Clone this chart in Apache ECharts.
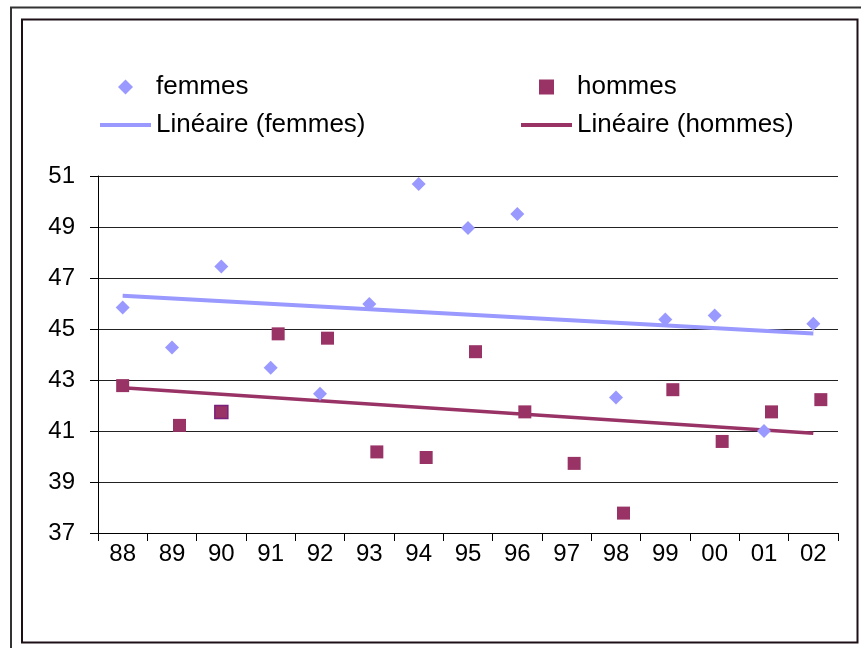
<!DOCTYPE html>
<html>
<head>
<meta charset="utf-8">
<script src="https://cdn.jsdelivr.net/npm/echarts@6/dist/echarts.min.js"></script>
<style>
  html, body { margin: 0; padding: 0; background: #fff; }
  #chart { width: 861px; height: 648px; }
</style>
</head>
<body>
<div id="chart"></div>
<script>
// années (axe x)
var annees = ['88', '89', '90', '91', '92', '93', '94', '95', '96', '97', '98', '99', '00', '01', '02']
// valeurs
var femmes = [45.84, 44.27, 47.45, 43.48, 42.46, 45.98, 50.69, 48.96, 49.51, null, 42.31, 45.37, 45.53, 41.0, 45.21]
var hommes = [42.78, 41.22, 41.75, 44.81, 44.64, 40.18, 39.96, 44.11, 41.75, 39.73, 37.78, 42.62, 40.59, 41.75, 42.23]
// droites de tendance : valeur en 88 et en 02
var tendanceFemmes = [46.3, 44.82]
var tendanceHommes = [42.7, 40.91]
var yTicks = { min: 37, max: 51, interval: 2 }

var COL_F = '#9999FF'
var COL_H = '#993366'
var FONT = 'Liberation Sans, Arial, sans-serif'

// icônes de légende (gardent leurs proportions dans la case)
var ICON_DIAMOND = 'path://M0,7 L7,0 L14,7 L7,14 Z'
var ICON_SQUARE = 'path://M0,0 L13,0 L13,13 L0,13 Z'
var ICON_LINE = 'path://M0,0 L51,0 L51,4 L0,4 Z'

function tendance (ends) {
  var arr = annees.map(function () { return null })
  arr[0] = ends[0]
  arr[arr.length - 1] = ends[1]
  return arr
}

// les carrés "hommes" sont légèrement décalés à droite, sauf 88 et 90
var hommesData = hommes.map(function (v, i) {
  var item = { value: v }
  if (i === 0) item.symbolOffset = [0, 0]
  if (i === 2) {
    item.symbolOffset = [0, 0]
    item.itemStyle = { borderColor: '#7a1f7a', borderWidth: 1.5 }
  }
  return item
})

var legendText = { fontSize: 26, color: '#000', fontFamily: FONT }

var chart = echarts.init(document.getElementById('chart'))
var option = {
  backgroundColor: '#fff',
  animation: false,
  textStyle: { fontFamily: FONT },
  graphic: [
    { type: 'rect', shape: { x: 11, y: 7.5, width: 900, height: 700 }, style: { fill: 'none', stroke: '#333', lineWidth: 2 } },
    { type: 'rect', shape: { x: 22, y: 19.5, width: 835.5, height: 623 }, style: { fill: 'none', stroke: '#1c0f16', lineWidth: 2 } }
  ],
  legend: [
    {
      left: 100, top: 74, padding: 0, orient: 'vertical', itemGap: 12,
      itemWidth: 51, itemHeight: 15,
      textStyle: legendText,
      data: [
        { name: 'femmes', icon: ICON_DIAMOND },
        { name: 'Linéaire (femmes)', icon: ICON_LINE }
      ]
    },
    {
      left: 521, top: 74, padding: 0, orient: 'vertical', itemGap: 12,
      itemWidth: 51, itemHeight: 15,
      textStyle: legendText,
      data: [
        { name: 'hommes', icon: ICON_SQUARE },
        { name: 'Linéaire (hommes)', icon: ICON_LINE }
      ]
    }
  ],
  grid: { left: 98, right: 23, top: 176, bottom: 115, containLabel: false },
  xAxis: {
    type: 'category',
    data: annees,
    boundaryGap: true,
    axisLine: { lineStyle: { color: '#000', width: 1 } },
    axisTick: { show: true, length: 8, lineStyle: { color: '#000' } },
    axisLabel: { fontSize: 24, color: '#000', margin: 9, fontFamily: FONT },
    splitLine: { show: false }
  },
  yAxis: {
    type: 'value',
    min: yTicks.min,
    max: yTicks.max,
    interval: yTicks.interval,
    axisLine: { show: true, lineStyle: { color: '#000', width: 1 } },
    axisTick: { show: true, length: 8, lineStyle: { color: '#000' } },
    axisLabel: { fontSize: 24, color: '#000', margin: 23, fontFamily: FONT },
    splitLine: { show: true, lineStyle: { color: '#222', width: 1 } }
  },
  series: [
    {
      name: 'femmes',
      type: 'scatter',
      symbol: 'diamond',
      symbolSize: 14,
      itemStyle: { color: COL_F, opacity: 1 },
      data: femmes,
      z: 3
    },
    {
      name: 'hommes',
      type: 'scatter',
      symbol: 'rect',
      symbolSize: 13,
      symbolOffset: [7.5, 0],
      itemStyle: { color: COL_H, opacity: 1 },
      data: hommesData,
      z: 3
    },
    {
      name: 'Linéaire (femmes)',
      type: 'line',
      symbol: 'none',
      connectNulls: true,
      lineStyle: { color: COL_F, width: 4 },
      itemStyle: { color: COL_F },
      data: tendance(tendanceFemmes),
      z: 2
    },
    {
      name: 'Linéaire (hommes)',
      type: 'line',
      symbol: 'none',
      connectNulls: true,
      lineStyle: { color: COL_H, width: 3.5 },
      itemStyle: { color: COL_H },
      data: tendance(tendanceHommes),
      z: 2
    }
  ]
}
chart.setOption(option)
</script>
</body>
</html>
